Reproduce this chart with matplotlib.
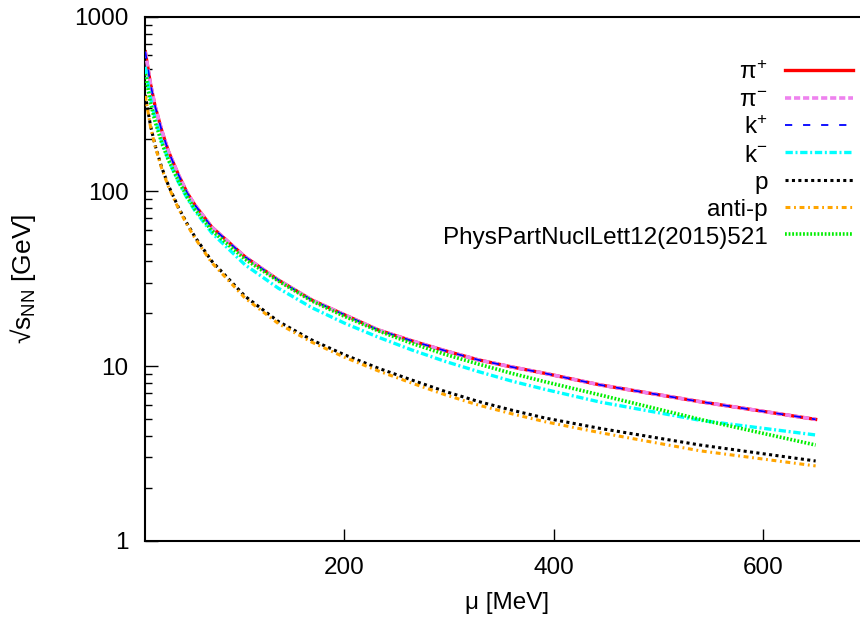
import matplotlib
matplotlib.use("Agg")
import matplotlib.pyplot as plt
from matplotlib.ticker import FixedLocator, LogLocator, NullFormatter, FixedFormatter

plt.rcParams['font.family'] = ['Liberation Sans', 'DejaVu Sans']
plt.rcParams['mathtext.fontset'] = 'custom'
plt.rcParams['mathtext.rm'] = 'Liberation Sans'
plt.rcParams['mathtext.it'] = 'Liberation Sans'

mu = [10, 15, 19.3, 25.6, 32, 41.5, 50, 57.4, 73.4, 105.2, 137, 168.9, 200.6, 232.4, 264.3, 296.1, 327.9, 359.8, 391.6, 444.6, 539.7, 650]
pi_plus = [630, 410, 308, 224, 170, 125, 98, 83.5, 62.5, 42.2, 31.1, 23.9, 19.6, 16.1, 13.95, 12.24, 10.85, 9.88, 9.08, 7.79, 6.25, 4.95]
pi_minus = [630, 410, 308, 224, 170, 125, 98, 83.5, 62.5, 42.2, 31.1, 23.9, 19.6, 16.1, 13.95, 12.24, 10.85, 9.88, 9.08, 7.79, 6.25, 4.95]
k_plus = [630, 410, 308, 224, 170, 125, 98, 83.5, 62.5, 42.2, 31.1, 23.9, 19.6, 16.1, 13.95, 12.24, 10.85, 9.88, 9.08, 7.79, 6.25, 4.95]
k_minus = [517, 341, 261.7, 193.4, 151.6, 113.3, 91.2, 77.5, 57.9, 38.0, 27.9, 21.6, 17.55, 14.63, 12.37, 10.64, 9.30, 8.20, 7.35, 6.21, 4.89, 4.03]
proton = [356, 237, 184, 137.5, 108.4, 81.2, 65.2, 54.9, 39.9, 25.1, 18.0, 14.1, 11.57, 9.72, 8.32, 7.16, 6.27, 5.59, 5.04, 4.39, 3.53, 2.86]
anti_p = [352, 234, 182, 135.5, 106.8, 80.0, 64.2, 54.0, 39.1, 24.5, 17.5, 13.7, 11.2, 9.38, 7.99, 6.85, 5.98, 5.33, 4.80, 4.15, 3.27, 2.68]
ppnl = [470, 320, 251, 190, 151.6, 115.2, 93, 79.1, 59.7, 40.9, 30.7, 23.6, 19.2, 15.9, 13.5, 11.67, 10.27, 9.08, 8.13, 6.82, 4.95, 3.53]

labels = [r'$\pi^{+}$', r'$\pi^{-}$', r'k$^{+}$', r'k$^{-}$', 'p', 'anti-p', 'PhysPartNuclLett12(2015)521']
xticks = [200, 400, 600]
yticks = [1, 10, 100, 1000]
ytick_labels = ['1', '10', '100', '1000']

FS = 17.5

fig = plt.figure(figsize=(8.6, 6.19), dpi=100)
ax = fig.add_axes([145.3/860, 1-540.7/619, 722.7/860, 524.0/619])

ax.plot(mu, pi_plus, color='#ff0000', lw=2.4, ls='-', label=labels[0], zorder=2)
ax.plot(mu, pi_minus, color='#ee82ee', lw=2.6, ls=(0, (1.7, 0.8)), label=labels[1], zorder=3)
ax.plot(mu, k_plus, color='#0000ff', lw=1.3, ls=(0, (4, 6)), label=labels[2], zorder=4)
ax.plot(mu, k_minus, color='#00ffff', lw=2.4, ls=(0, (2.2, 0.8, 0.6, 0.8)), label=labels[3], zorder=5)
ax.plot(mu, proton, color='#000000', lw=2.2, ls=(0, (1, 1.1)), label=labels[4], zorder=6)
ax.plot(mu, anti_p, color='#ffa500', lw=2.2, ls=(0, (1.6, 1.2, 0.6, 1.2)), label=labels[5], zorder=7)
ax.plot(mu, ppnl, color='#00ee00', lw=2.6, ls=(0, (0.5, 0.5)), label=labels[6], zorder=8)

ax.set_yscale('log')
ax.set_xlim(10, 700)
ax.set_ylim(1, 1000)
ax.xaxis.set_major_locator(FixedLocator(xticks))
ax.yaxis.set_major_locator(FixedLocator(yticks))
ax.yaxis.set_major_formatter(FixedFormatter(ytick_labels))
ax.yaxis.set_minor_locator(LogLocator(base=10, subs=range(2, 10)))
ax.yaxis.set_minor_formatter(NullFormatter())
ax.tick_params(axis='both', which='major', direction='in', length=9, width=1, labelsize=FS)
ax.tick_params(axis='y', which='major', pad=12)
ax.tick_params(axis='x', which='major', pad=12)
ax.tick_params(axis='y', which='minor', direction='in', length=5, width=1)
ax.tick_params(top=False, right=False)
for s in ax.spines.values():
    s.set_linewidth(1.5)

ax.set_xlabel('μ [MeV]', fontsize=FS, labelpad=9)
ax.set_ylabel('√s$_{\\mathregular{NN}}$ [GeV]', fontsize=19, labelpad=26)

leg = ax.legend(loc='upper right', bbox_to_anchor=(0.979, 0.9155), frameon=False, markerfirst=False,
                fontsize=FS, handlelength=2.8, handleheight=0.9, labelspacing=0.16,
                handletextpad=0.7, borderaxespad=0, borderpad=0)
for t in leg.get_texts():
    t.set_ha('right')

fig.savefig('out.png', dpi=100)
